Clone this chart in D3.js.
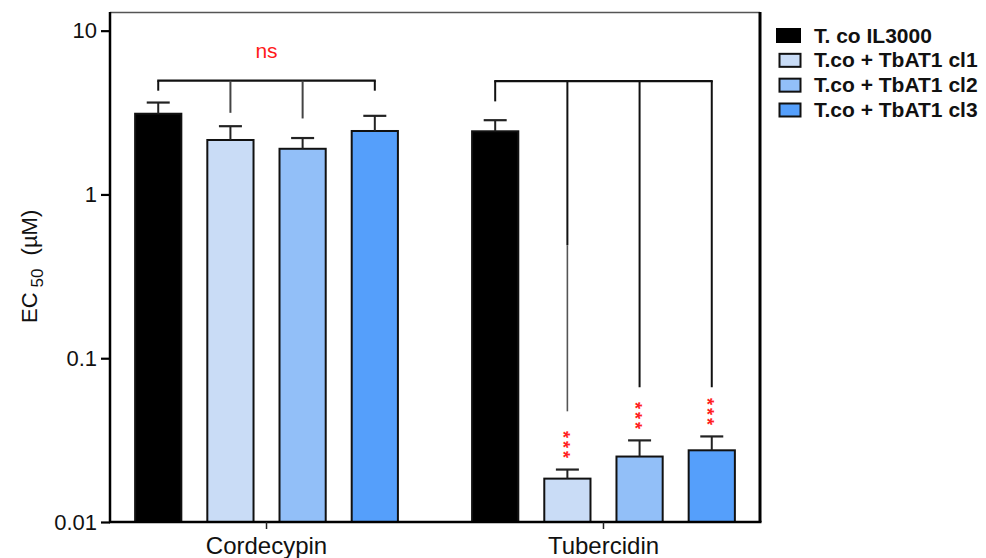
<!DOCTYPE html>
<html>
<head>
<meta charset="utf-8">
<script src="https://cdn.jsdelivr.net/npm/d3@7"></script>
<style>
  body { margin: 0; background: #fff; }
  svg { display: block; font-family: "Liberation Sans", Arial, sans-serif; }
</style>
</head>
<body>
<div id="chart"></div>
<script>
// data
const drugs = ['Cordecypin', 'Tubercidin'];
const strains = ['T. co IL3000', 'T.co + TbAT1 cl1', 'T.co + TbAT1 cl2', 'T.co + TbAT1 cl3'];
const colors = ['#000000', '#c9dcf6', '#92bff8', '#559ffb'];
const cordecypinMean = [3.11, 2.15, 1.90, 2.44];
const cordecypinUpper = [3.64, 2.61, 2.21, 3.02];
const tubercidinMean = [2.43, 0.0184, 0.0251, 0.0274];
const tubercidinUpper = [2.84, 0.0209, 0.0315, 0.0333];
const yTicks = [10, 1, 0.1, 0.01];

// significance annotations (value units)
const bracketLevel = [4.95, 4.92];
const cordecypinDrops = [4.30, 3.15, 2.91, 4.30];
const tubercidinDrops = [3.70, 0.0474, 0.0665, 0.0665];
const tubercidinFade = [null, 0.49, null, null];   // drop turns grey below this value
const cordecypinSig = ['', '', '', ''];
const tubercidinSig = ['', '***', '***', '***'];
const groupLabel = ['ns', ''];

const rows = drugs.map((drug, g) => ({
  drug,
  means: g === 0 ? cordecypinMean : tubercidinMean,
  upper: g === 0 ? cordecypinUpper : tubercidinUpper,
  drops: g === 0 ? cordecypinDrops : tubercidinDrops,
  fade: g === 0 ? [null, null, null, null] : tubercidinFade,
  sig: g === 0 ? cordecypinSig : tubercidinSig,
  level: bracketLevel[g],
  label: groupLabel[g]
}));

const W = 986, H = 558;
const plotLeft = 110, plotRight = 760, plotTop = 12, plotBottom = 522;

const svg = d3.select('#chart').append('svg')
  .attr('width', W).attr('height', H);

const x0 = d3.scaleBand()
  .domain(drugs)
  .range([plotLeft, plotRight])
  .paddingInner(0.143)
  .paddingOuter(0.036);

const x1 = d3.scaleBand()
  .domain(strains)
  .range([0, x0.bandwidth()])
  .paddingInner(0.36)
  .paddingOuter(0.18);

const y = d3.scaleLog()
  .domain([0.01, 13])
  .range([plotBottom, plotTop]);

// frame: top + right
svg.append('line')
  .attr('x1', plotLeft).attr('x2', plotRight)
  .attr('y1', plotTop + 0.5).attr('y2', plotTop + 0.5)
  .attr('stroke', '#555').attr('stroke-width', 1.3);
svg.append('line')
  .attr('x1', plotRight).attr('x2', plotRight)
  .attr('y1', plotTop).attr('y2', plotBottom)
  .attr('stroke', '#000').attr('stroke-width', 3);

// bars
const $groups = svg.selectAll('g.group')
  .data(rows)
  .enter()
  .append('g')
  .attr('class', 'group')
  .attr('transform', d => `translate(${x0(d.drug)},0)`);

$groups.selectAll('rect')
  .data(d => d.means.map((v, i) => ({ v, i })))
  .enter()
  .append('rect')
  .attr('x', d => x1(strains[d.i]))
  .attr('y', d => y(d.v))
  .attr('width', x1.bandwidth())
  .attr('height', d => plotBottom - y(d.v))
  .attr('fill', d => colors[d.i])
  .attr('stroke', '#111')
  .attr('stroke-width', 2);

// error bars, brackets, stars
const cx = i => x1(strains[i]) + x1.bandwidth() / 2;
$groups.each(function (d) {
  const g = d3.select(this);
  d.means.forEach((m, i) => {
    g.append('line')
      .attr('x1', cx(i)).attr('x2', cx(i))
      .attr('y1', y(m)).attr('y2', y(d.upper[i]))
      .attr('stroke', '#222').attr('stroke-width', 2);
    g.append('line')
      .attr('x1', cx(i) - 11.5).attr('x2', cx(i) + 11.5)
      .attr('y1', y(d.upper[i])).attr('y2', y(d.upper[i]))
      .attr('stroke', '#222').attr('stroke-width', 2.2);
  });

  const lvl = y(d.level);
  g.append('line')
    .attr('x1', cx(0) - 1).attr('x2', cx(3) + 1)
    .attr('y1', lvl).attr('y2', lvl)
    .attr('stroke', '#111').attr('stroke-width', 2.2);

  d.drops.forEach((v, i) => {
    const mid = d.fade[i] ? y(d.fade[i]) : y(v);
    g.append('line')
      .attr('x1', cx(i)).attr('x2', cx(i))
      .attr('y1', lvl).attr('y2', mid)
      .attr('stroke', (i === 1 || i === 2) && d.drug === 'Cordecypin' ? '#444' : '#111')
      .attr('stroke-width', 2);
    if (d.fade[i]) {
      g.append('line')
        .attr('x1', cx(i)).attr('x2', cx(i))
        .attr('y1', mid).attr('y2', y(v))
        .attr('stroke', '#555')
        .attr('stroke-width', 1.6);
    }

    // stars stacked vertically: one text turned 90 degrees
    if (d.sig[i]) {
      const n = d.sig[i].length;
      const yTop = y(d.upper[i]) - 15 - (n - 1) * 10 - 3.5;
      g.append('text')
        .attr('transform', `translate(${cx(i)},${yTop}) rotate(90)`)
        .attr('dy', '0.58em')
        .attr('fill', '#ff2020')
        .style('font-size', '18px')
        .style('font-weight', 'bold')
        .style('letter-spacing', '3px')
        .text(d.sig[i]);
    }
  });

  if (d.label) {
    g.append('text')
      .attr('x', (cx(0) + cx(3)) / 2)
      .attr('y', lvl - 23)
      .attr('text-anchor', 'middle')
      .attr('fill', '#ff1a1a')
      .style('font-size', '21px')
      .text(d.label);
  }
});

// axes
const yAxis = d3.axisLeft(y)
  .tickValues(yTicks)
  .tickFormat(d => String(d))
  .tickSize(9)
  .tickPadding(4);

const $y = svg.append('g')
  .attr('transform', `translate(${plotLeft},0)`)
  .call(yAxis);
$y.select('.domain').attr('stroke', '#000').attr('stroke-width', 2.5)
  .attr('d', `M0,${plotTop}V${plotBottom + 1}`);
$y.selectAll('.tick line').attr('stroke', '#000').attr('stroke-width', 2.2);
$y.selectAll('.tick text')
  .style('font-size', '22px')
  .style('font-family', '"Liberation Sans", Arial, sans-serif')
  .attr('fill', '#111');

const xAxis = d3.axisBottom(x0)
  .tickSize(7)
  .tickPadding(9);

const $x = svg.append('g')
  .attr('transform', `translate(0,${plotBottom})`)
  .call(xAxis);
$x.select('.domain').attr('stroke', '#000').attr('stroke-width', 2.5)
  .attr('d', `M${plotLeft - 1},0H${plotRight + 1.5}`);
$x.selectAll('.tick line').attr('stroke', '#222').attr('stroke-width', 1.5);
$x.selectAll('.tick text')
  .attr('dy', null)
  .attr('y', 32)
  .style('font-size', '24px')
  .style('font-family', '"Liberation Sans", Arial, sans-serif')
  .attr('fill', '#111');

// y label
const $yl = svg.append('text')
  .attr('transform', 'translate(37,323) rotate(-90)')
  .attr('text-anchor', 'start')
  .style('font-size', '22px')
  .attr('fill', '#111');
$yl.append('tspan').text('EC');
$yl.append('tspan').attr('dx', 5).attr('dy', 6).style('font-size', '17px').text('50');
$yl.append('tspan').attr('dx', 7).attr('dy', -6).text(' (\u00b5M)');

// legend
const legendY = d3.scalePoint()
  .domain(strains)
  .range([35.5, 110]);

const $legend = svg.append('g');
strains.forEach((s, i) => {
  const yy = legendY(s);
  if (i === 0) {
    $legend.append('rect')
      .attr('x', 776).attr('y', yy - 7.5)
      .attr('width', 25).attr('height', 15)
      .attr('fill', colors[i]);
  } else {
    $legend.append('rect')
      .attr('x', 779.5).attr('y', yy - 6.5)
      .attr('width', 21).attr('height', 13)
      .attr('fill', colors[i])
      .attr('stroke', '#111').attr('stroke-width', 2);
  }
  $legend.append('text')
    .attr('x', 814).attr('y', yy + 7)
    .style('font-size', '21px')
    .style('font-weight', 'bold')
    .attr('fill', '#111')
    .text(s);
});
</script>
</body>
</html>
